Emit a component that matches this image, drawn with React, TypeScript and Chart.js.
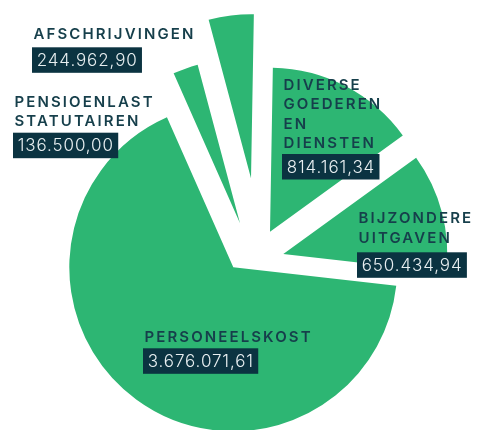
import React, { useEffect, useRef } from 'react';
import { Chart, registerables } from 'chart.js';

Chart.register(...registerables);

// ---- data ----
const categories = [
  'Diverse goederen en diensten',
  'Bijzondere uitgaven',
  'Personeelskost',
  'Pensioenlast statutairen',
  'Afschrijvingen',
];
const titleLines = [
  ['DIVERSE', 'GOEDEREN', 'EN', 'DIENSTEN'],
  ['BIJZONDERE', 'UITGAVEN'],
  ['PERSONEELSKOST'],
  ['PENSIOENLAST', 'STATUTAIREN'],
  ['AFSCHRIJVINGEN'],
];
const amounts = [814161.34, 650434.94, 3676071.61, 136500.0, 244962.9];

// ---- styles ----
const GREEN = '#2db673';
const DARK_BOX = '#0b3341';
const TITLE_COLOR = '#163f4b';
const VALUE_COLOR = '#e8eff1';
// per-slice explode offsets [dx, dy]
const SLICE_SHIFT: number[][] = [
  [15, -23.8],
  [28.3, -1.5],
  [-21.7, 11.8],
  [-15, -32.2],
  [-4, -77.2],
];
// label layout: [left x, first title line cap-top y, value box top y]
const LABEL_LAYOUT: number[][] = [
  [282, 79, 154],
  [357, 212.3, 252.3],
  [143, 331, 348.3],
  [13, 95.7, 132.7],
  [32, 27.7, 47.3],
];

function fmt(v: number): string {
  const [i, d] = v.toFixed(2).split('.');
  return i.replace(/\B(?=(\d{3})+(?!\d))/g, '.') + ',' + d;
}

const explodePlugin = {
  id: 'explodeSlices',
  beforeDatasetDraw(chart: any, args: any) {
    const ctx = chart.ctx;
    args.meta.data.forEach((arc: any, i: number) => {
      const s = SLICE_SHIFT[i] || [0, 0];
      ctx.save();
      ctx.translate(s[0], s[1]);
      arc.draw(ctx);
      ctx.restore();
    });
    return false;
  },
};

const labelPlugin = {
  id: 'sliceLabels',
  afterDatasetsDraw(chart: any) {
    const ctx = chart.ctx as CanvasRenderingContext2D;
    const values = chart.data.datasets[0].data as number[];
    values.forEach((v, i) => {
      const [x, capTop, boxTop] = LABEL_LAYOUT[i];
      ctx.save();
      ctx.textAlign = 'left';
      ctx.textBaseline = 'alphabetic';
      ctx.font = '600 15px Inter';
      (ctx as any).letterSpacing = '2.1px';
      ctx.fillStyle = TITLE_COLOR;
      titleLines[i].forEach((line, k) => {
        ctx.fillText(line, x + 1.5, capTop + 11 + k * 19.4);
      });
      const txt = fmt(v);
      ctx.font = '300 17px Inter';
      (ctx as any).letterSpacing = '0.9px';
      const w = ctx.measureText(txt).width;
      ctx.fillStyle = DARK_BOX;
      ctx.fillRect(x, boxTop, w + 9, 25.5);
      ctx.fillStyle = VALUE_COLOR;
      ctx.fillText(txt, x + 4.7, boxTop + 18.6);
      ctx.restore();
    });
  },
};

export default function App() {
  const ref = useRef<HTMLCanvasElement>(null);
  useEffect(() => {
    if (!ref.current) return;
    const chart = new Chart(ref.current, {
      type: 'pie',
      data: {
        labels: categories,
        datasets: [
          {
            data: amounts,
            backgroundColor: GREEN,
            borderWidth: 0,
            hoverOffset: 0,
          },
        ],
      },
      options: {
        animation: false,
        responsive: false,
        rotation: 1,
        radius: 164,
        events: [],
        layout: { padding: { left: 33, top: 81, right: 0, bottom: 0 } },
        plugins: { legend: { display: false }, tooltip: { enabled: false } },
      } as any,
      plugins: [explodePlugin, labelPlugin],
    });
    return () => chart.destroy();
  }, []);
  return (
    <div style={{ position: 'fixed', left: 0, top: 0, width: 477, height: 430, background: '#fff' }}>
      <canvas ref={ref} width={477} height={430} style={{ display: 'block' }} />
    </div>
  );
}
